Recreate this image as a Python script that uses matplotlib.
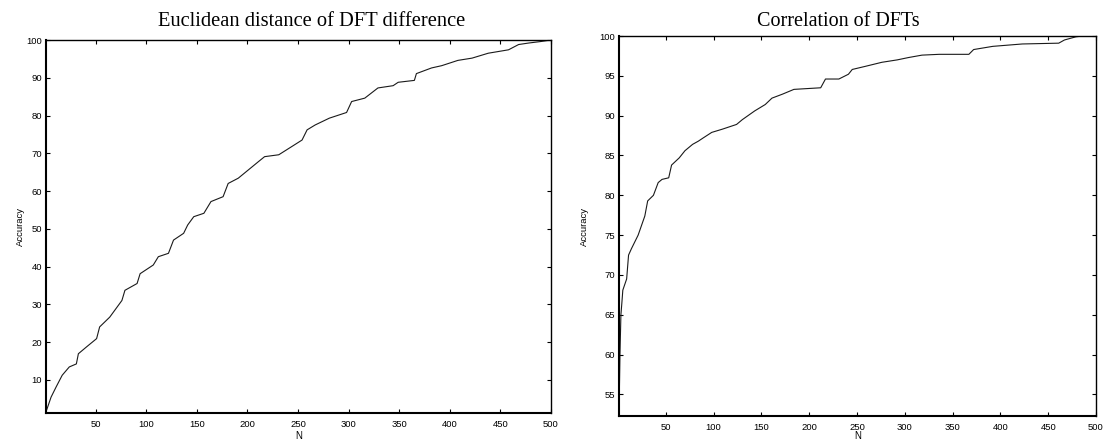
import matplotlib
matplotlib.use("Agg")
import matplotlib.pyplot as plt
from matplotlib.ticker import MultipleLocator

# ---- data ----
eu_n = [1, 6, 11, 17, 24, 31, 33, 41, 51, 54, 64, 76, 79, 91, 94, 107, 112, 122,
        127, 137, 141, 147, 157, 164, 176, 181, 191, 201, 211, 217, 231, 244, 254,
        259, 267, 281, 298, 303, 316, 329, 344, 349, 365, 367, 382, 392, 408, 422,
        438, 458, 468, 478, 490, 500]
eu_acc = [1.5, 5.4, 8.1, 11.2, 13.4, 14.2, 16.9, 18.7, 20.9, 24.0, 26.6, 31.0, 33.7,
          35.5, 38.1, 40.4, 42.6, 43.5, 47.0, 48.8, 51.0, 53.2, 54.1, 57.2, 58.5,
          62.0, 63.4, 65.6, 67.8, 69.1, 69.6, 71.8, 73.5, 76.2, 77.5, 79.3, 80.8,
          83.7, 84.6, 87.3, 87.9, 88.8, 89.3, 91.1, 92.6, 93.2, 94.6, 95.2, 96.5,
          97.4, 98.8, 99.2, 99.6, 100.0]

corr_n = [1, 2, 3, 4, 5, 7, 9, 11, 14, 21, 28, 31, 37, 42, 46, 53, 56, 64, 70, 78,
          84, 89, 98, 109, 124, 130, 143, 154, 161, 172, 184, 212, 217, 231, 241,
          245, 259, 276, 292, 304, 318, 336, 367, 372, 392, 423, 461, 467, 479, 486,
          500]
corr_acc = [52.5, 60.0, 65.0, 66.5, 68.1, 68.8, 69.5, 72.5, 73.3, 75.0, 77.4, 79.3,
            80.0, 81.6, 82.0, 82.2, 83.8, 84.7, 85.6, 86.4, 86.8, 87.2, 87.9, 88.3,
            88.9, 89.5, 90.6, 91.4, 92.2, 92.7, 93.3, 93.5, 94.6, 94.6, 95.2, 95.8,
            96.2, 96.7, 97.0, 97.3, 97.6, 97.7, 97.7, 98.3, 98.7, 99.0, 99.1, 99.5,
            99.9, 100.0, 100.0]

titles = ["Euclidean distance of DFT difference", "Correlation of DFTs"]
x_label = "N"
y_label = "Accuracy"

W, H = 1111, 444
fig = plt.figure(figsize=(W / 100, H / 100), dpi=100)

def px_axes(l, r, t, b):
    return fig.add_axes([l / W, 1 - b / H, (r - l) / W, (b - t) / H])

ax1 = px_axes(46, 551, 40, 413)
ax2 = px_axes(619, 1096, 36, 416)

def style(ax, ylim, ystep, ylab_x, xlab_y):
    ax.set_xlim(1, 500)
    ax.set_ylim(*ylim)
    ax.xaxis.set_major_locator(MultipleLocator(50))
    ax.yaxis.set_major_locator(MultipleLocator(ystep))
    ax.tick_params(direction="in", length=3, width=0.8, top=True, right=True,
                   labelsize=6.8, colors="black")
    ax.tick_params(axis="x", pad=5)
    ax.tick_params(axis="y", pad=3)
    for lab in ax.get_xticklabels() + ax.get_yticklabels():
        lab.set_fontfamily("Liberation Sans")
    for s in ax.spines.values():
        s.set_linewidth(1.0)
        s.set_color("black")
    ax.spines["left"].set_linewidth(1.5)
    ax.spines["bottom"].set_linewidth(1.5)
    ax.set_xlabel(x_label, fontsize=7, family="Liberation Sans")
    ax.set_ylabel(y_label, fontsize=6.8, family="Liberation Sans")
    ax.yaxis.set_label_coords(ylab_x, 0.5)
    ax.xaxis.set_label_coords(0.5, xlab_y)

ax1.plot(eu_n, eu_acc, color="#1a1a1a", lw=0.8)
style(ax1, (1.2, 100), 10, -0.042, -0.048)
ax2.plot(corr_n, corr_acc, color="#1a1a1a", lw=0.8)
style(ax2, (52.3, 100), 5, -0.063, -0.039)

fig.text(312 / W, 1 - 21 / H, titles[0], ha="center", va="center",
         family="Liberation Serif", fontsize=14.8)
fig.text(838 / W, 1 - 21 / H, titles[1], ha="center", va="center",
         family="Liberation Serif", fontsize=14.5)

fig.savefig("out.png", dpi=100, facecolor="white")
